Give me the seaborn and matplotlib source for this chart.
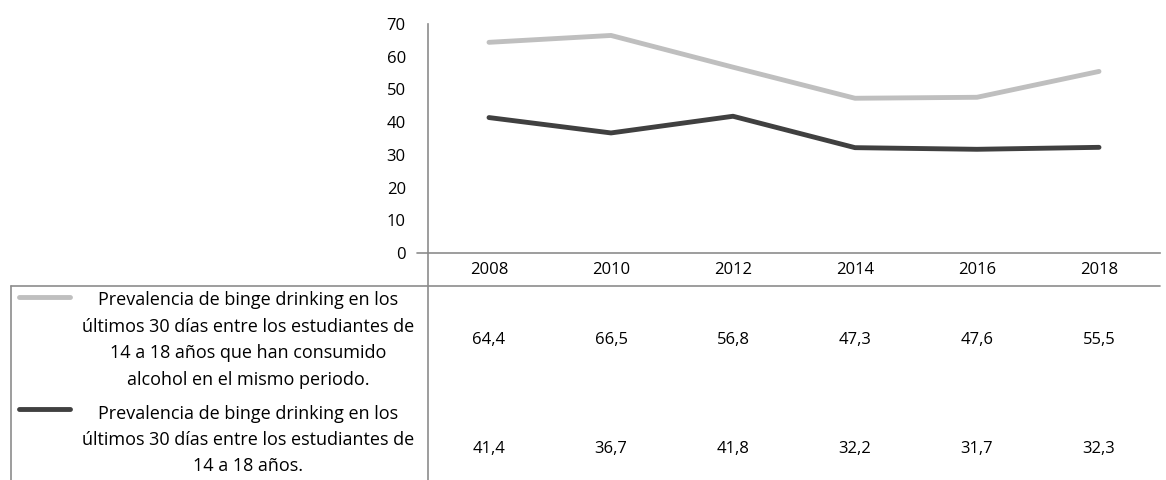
import matplotlib
matplotlib.use("Agg")
import matplotlib.pyplot as plt
from matplotlib.lines import Line2D
import seaborn as sns
import pandas as pd

years = ["2008", "2010", "2012", "2014", "2016", "2018"]
series_names = [
    "Prevalencia de binge drinking en los\núltimos 30 días entre los estudiantes de\n14 a 18 años que han consumido\nalcohol en el mismo periodo.",
    "Prevalencia de binge drinking en los\núltimos 30 días entre los estudiantes de\n14 a 18 años.",
]
consumers = [64.4, 66.5, 56.8, 47.3, 47.6, 55.5]
all_students = [41.4, 36.7, 41.8, 32.2, 31.7, 32.3]
yticks = [0, 10, 20, 30, 40, 50, 60, 70]
colors = ["#BFBFBF", "#404040"]

sns.set_theme(style="white")
plt.rcParams["font.family"] = ["Open Sans", "DejaVu Sans"]

NUM_FS = 12
TXT_FS = 13

W, H = 1166, 480
fig = plt.figure(figsize=(W / 100, H / 100), dpi=100)

def fx(px):
    return px / W

def fy(py):
    return 1 - py / H

# main axes (pixel box)
left, right, top, bottom = 428, 1160, 24, 253
ax = fig.add_axes([fx(left), fy(bottom), fx(right) - fx(left), fy(top) - fy(bottom)])

df = pd.DataFrame({
    "x": list(range(len(years))) * 2,
    "value": consumers + all_students,
    "serie": [series_names[0]] * len(years) + [series_names[1]] * len(years),
})
sns.lineplot(data=df, x="x", y="value", hue="serie", palette=colors,
             linewidth=3.5, ax=ax, legend=False, solid_capstyle="round")

ax.set_xlim(-0.5, len(years) - 0.5)
ax.set_ylim(0, 70)
ax.set_yticks(yticks)
ax.set_yticklabels([str(t) for t in yticks], fontsize=NUM_FS, color="#000000")
ax.set_xticks([])
ax.set_xlabel("")
ax.set_ylabel("")
ax.tick_params(axis="y", length=0, pad=16)
for s in ["top", "right"]:
    ax.spines[s].set_visible(False)
for s in ["left", "bottom"]:
    ax.spines[s].set_color("#8C8C8C")
    ax.spines[s].set_linewidth(1.2)

# table grid lines (figure coords)
gc = "#8C8C8C"
def hline(y, x0, x1):
    fig.add_artist(Line2D([fx(x0), fx(x1)], [fy(y), fy(y)], color=gc, lw=1.2))
def vline(x, y0, y1):
    fig.add_artist(Line2D([fx(x), fx(x)], [fy(y0), fy(y1)], color=gc, lw=1.2))

hline(253, 417, left)
hline(286, 11, right)
vline(11, 286, 480)
vline(left, 253, 480)

ht = bottom - top
def ay(py):
    return (bottom - py) / ht

xt = ax.get_xaxis_transform()
# header years
for i, yr in enumerate(years):
    ax.text(i, ay(270), yr, transform=xt, ha="center", va="center", fontsize=NUM_FS,
            color="#000000", clip_on=False)

row_centers = [340, 449]
row_vals = [consumers, all_students]
for r, vals in enumerate(row_vals):
    for i, v in enumerate(vals):
        ax.text(i, ay(row_centers[r]), f"{v:.1f}".replace(".", ","), transform=xt,
                ha="center", va="center", fontsize=NUM_FS, color="#000000", clip_on=False)

# legend cells
label_centers = [340, 440]
key_y = [297, 409]
for r, name in enumerate(series_names):
    fig.add_artist(Line2D([fx(19), fx(70)], [fy(key_y[r]), fy(key_y[r])],
                          color=colors[r], lw=3.5, solid_capstyle="round"))
    fig.text(fx(248), fy(label_centers[r]), name, ha="center", va="center",
             fontsize=TXT_FS, color="#000000", linespacing=1.6)

fig.savefig("out.png", dpi=100)
